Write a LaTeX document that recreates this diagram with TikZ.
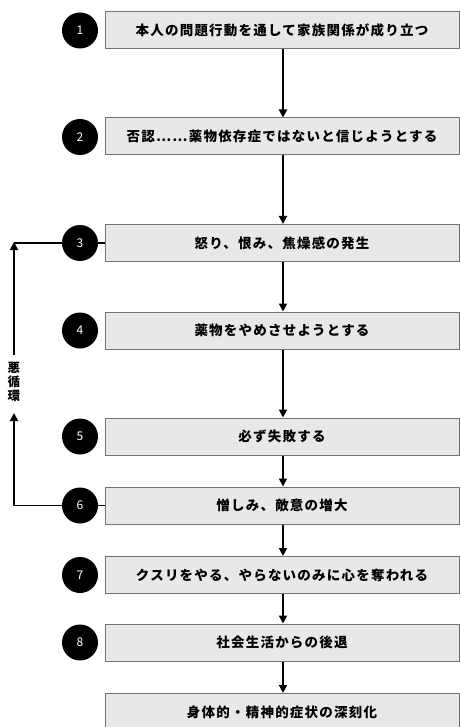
\documentclass[tikz,border=0pt]{standalone}
\usepackage{fontspec}
\setmainfont{Noto Sans CJK JP}
\usetikzlibrary{arrows.meta}
\begin{document}
\begin{tikzpicture}[x=1pt,y=-1pt,
  stepbox/.style={draw=black!55, fill=black!9, line width=1pt, minimum width=354pt, minimum height=37pt, inner sep=0pt, font=\fontsize{13.5}{14}\selectfont\bfseries\addfontfeature{LetterSpace=9}},
  numdot/.style={circle, fill=black, minimum size=36pt, inner sep=0pt, text=white, font=\fontsize{12}{13}\selectfont},
  flow/.style={line width=1.8pt, -{Triangle[length=8pt,width=8pt]}},
  link/.style={line width=1.5pt}]
\useasboundingbox (0,0) rectangle (460,727);
\clip (0,0) rectangle (460,727);
\fill[white] (0,0) rectangle (460,727);
% boxes
\node[stepbox] (b1) at (282,30) {本人の問題行動を通して家族関係が成り立つ};
\node[stepbox] (b2) at (282,136.5) {否認……薬物依存症ではないと信じようとする};
\node[stepbox] (b3) at (282,243) {怒り、恨み、焦燥感の発生};
\node[stepbox] (b4) at (282,330.5) {薬物をやめさせようとする};
\node[stepbox] (b5) at (282,436.5) {必ず失敗する};
\node[stepbox] (b6) at (282,505.5) {憎しみ、敵意の増大};
\node[stepbox] (b7) at (282,575) {クスリをやる、やらないのみに心を奪われる};
\node[stepbox] (b8) at (282,642.5) {社会生活からの後退};
\node[stepbox] (b9) at (282,712) {身体的・精神的症状の深刻化};
% number dots
\node[numdot] (n1) at (80,30.5) {1};
\node[numdot] (n2) at (80,137) {2};
\node[numdot] (n3) at (80,243) {3};
\node[numdot] (n4) at (80,330.5) {4};
\node[numdot] (n5) at (80,436.5) {5};
\node[numdot] (n6) at (80,505.5) {6};
\node[numdot] (n7) at (80,575) {7};
\node[numdot] (n8) at (80,642.5) {8};
% main flow
\draw[flow] ([xshift=1pt]b1.south) -- ([xshift=1pt]b2.north);
\draw[flow] ([xshift=1pt]b2.south) -- ([xshift=1pt]b3.north);
\draw[flow] ([xshift=1pt]b3.south) -- ([xshift=1pt]b4.north);
\draw[flow] ([xshift=1pt]b4.south) -- ([xshift=1pt]b5.north);
\draw[flow] ([xshift=1pt]b5.south) -- ([xshift=1pt]b6.north);
\draw[flow] ([xshift=1pt]b6.south) -- ([xshift=1pt]b7.north);
\draw[flow] ([xshift=1pt]b7.south) -- ([xshift=1pt]b8.north);
\draw[flow] ([xshift=1pt]b8.south) -- ([xshift=1pt]b9.north);
% vicious circle loop
\node[font=\fontsize{12.5}{14}\selectfont\bfseries, align=center, inner sep=0pt] (vc) at (14,382) {悪\\循\\環};
\coordinate (c3) at (14,243);
\draw[link] (n3.east) -- (b3.west);
\draw[link] (n6.east) -- (b6.west);
\draw[link] (c3) -- (n3.west);
\draw[flow] (n6.west) -| (vc.south |- 0,413) ;
\draw[flow] (vc.north |- 0,355) -- ([yshift=1pt]c3);
\end{tikzpicture}
\end{document}
